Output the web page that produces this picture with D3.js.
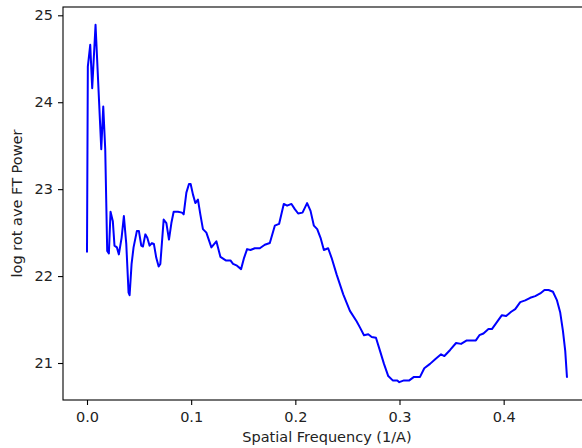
<!DOCTYPE html>
<html>
<head>
<meta charset="utf-8">
<script src="https://cdn.jsdelivr.net/npm/d3@7"></script>
<style>
body { margin: 0; background: #fff; }
text { font-family: "DejaVu Sans", sans-serif; }
</style>
</head>
<body>
<script>
var width = 582;
var height = 448;

// spatial frequency (1/A) and log rotational average FT power
var freq = [0.0, 0.0008, 0.0031, 0.0050, 0.0082, 0.0137, 0.0156, 0.0175, 0.0194, 0.0210,
    0.0226, 0.0248, 0.0264, 0.0287, 0.0306, 0.0332, 0.0354, 0.0377, 0.0399, 0.0409,
    0.0428, 0.0447, 0.0479, 0.0498, 0.0521, 0.0537, 0.0560, 0.0579, 0.0601, 0.0623,
    0.0642, 0.0665, 0.0688, 0.0704, 0.0736, 0.0762, 0.0787, 0.0810, 0.0832, 0.0873,
    0.0912, 0.0928, 0.0954, 0.0979, 0.0995, 0.1017, 0.1040, 0.1065, 0.1088, 0.1113,
    0.1146, 0.1194, 0.1242, 0.1281, 0.1332, 0.1377, 0.1402, 0.1440, 0.1479, 0.1508,
    0.1537, 0.1569, 0.1611, 0.1659, 0.1707, 0.1755, 0.1803, 0.1844, 0.1889, 0.1921,
    0.1963, 0.1995, 0.2027, 0.2069, 0.2113, 0.2146, 0.2178, 0.2210, 0.2242, 0.2274,
    0.2315, 0.2348, 0.2396, 0.2460, 0.2524, 0.2588, 0.2620, 0.2659, 0.2700, 0.2733,
    0.2774, 0.2813, 0.2851, 0.2892, 0.2935, 0.2979, 0.2998, 0.3043, 0.3094, 0.3139,
    0.3197, 0.3238, 0.3293, 0.3348, 0.3399, 0.3431, 0.3486, 0.3543, 0.3591, 0.3646,
    0.3710, 0.3733, 0.3767, 0.3806, 0.3854, 0.3887, 0.3935, 0.3983, 0.4024, 0.4072,
    0.4111, 0.4159, 0.4207, 0.4255, 0.4303, 0.4351, 0.4392, 0.4431, 0.4473, 0.4512,
    0.4543, 0.4569, 0.4591, 0.4608];
var power = [22.27, 24.41, 24.66, 24.16, 24.89, 23.46, 23.95, 23.46, 22.29, 22.26,
    22.74, 22.63, 22.35, 22.33, 22.25, 22.44, 22.69, 22.37, 21.81, 21.78,
    22.14, 22.33, 22.52, 22.52, 22.35, 22.34, 22.48, 22.44, 22.35, 22.38,
    22.37, 22.21, 22.11, 22.14, 22.65, 22.61, 22.42, 22.61, 22.74, 22.74,
    22.73, 22.71, 22.96, 23.06, 23.06, 22.94, 22.84, 22.88, 22.71, 22.54,
    22.50, 22.33, 22.40, 22.22, 22.18, 22.18, 22.14, 22.12, 22.08, 22.21,
    22.31, 22.30, 22.32, 22.32, 22.36, 22.38, 22.58, 22.60, 22.83, 22.81,
    22.83, 22.77, 22.72, 22.73, 22.84, 22.75, 22.58, 22.54, 22.44, 22.30,
    22.32, 22.21, 22.02, 21.79, 21.60, 21.48, 21.41, 21.32, 21.33, 21.30,
    21.29, 21.14, 20.99, 20.85, 20.80, 20.80, 20.78, 20.80, 20.80, 20.84,
    20.84, 20.94, 20.99, 21.05, 21.10, 21.08, 21.15, 21.23, 21.22, 21.26,
    21.26, 21.26, 21.32, 21.34, 21.39, 21.39, 21.47, 21.55, 21.54, 21.59,
    21.62, 21.70, 21.72, 21.75, 21.77, 21.80, 21.84, 21.84, 21.82, 21.72,
    21.58, 21.37, 21.14, 20.83];
var xTicks = [0.0, 0.1, 0.2, 0.3, 0.4];
var yTicks = [21, 22, 23, 24, 25];

var margin = {top: 7, right: -9, bottom: 48, left: 63};
var plotW = width - margin.left - margin.right;
var plotH = height - margin.top - margin.bottom;
var fontSize = "14.5px";

var svg = d3.select("body")
            .append("svg")
            .attr("width", width)
            .attr("height", height);

var g = svg.append("g")
           .attr("transform", "translate(" + margin.left + "," + margin.top + ")");

// matplotlib-like 5% margins around the data
var xMin = d3.min(freq), xMax = d3.max(freq);
var yMin = d3.min(power), yMax = d3.max(power);
var x = d3.scaleLinear()
          .domain([xMin - 0.05 * (xMax - xMin), xMax + 0.05 * (xMax - xMin)])
          .range([0, plotW]);
var y = d3.scaleLinear()
          .domain([yMin - 0.05 * (yMax - yMin), yMax + 0.05 * (yMax - yMin)])
          .range([plotH, 0]);

var pts = freq.map(function(f, i) { return [f, power[i]]; });

var line = d3.line()
             .x(function(d) { return x(d[0]); })
             .y(function(d) { return y(d[1]); });

g.append("path")
    .datum(pts)
    .attr("d", line)
    .attr("fill", "none")
    .attr("stroke", "#0000ff")
    .attr("stroke-width", 2)
    .attr("stroke-linejoin", "round");

// frame (right side falls just outside the window, as in the original crop)
g.append("rect")
    .attr("x", 0)
    .attr("y", 0)
    .attr("width", plotW)
    .attr("height", plotH)
    .attr("fill", "none")
    .attr("stroke", "#000")
    .attr("stroke-width", 1.1);

var xAxis = g.append("g")
    .attr("transform", "translate(0," + plotH + ")")
    .call(d3.axisBottom(x).tickValues(xTicks).tickFormat(d3.format(".1f"))
        .tickSize(5).tickSizeOuter(0).tickPadding(7));
var yAxis = g.append("g")
    .call(d3.axisLeft(y).tickValues(yTicks).tickFormat(d3.format("d"))
        .tickSize(5).tickSizeOuter(0).tickPadding(5));

[xAxis, yAxis].forEach(function(a) {
    a.select(".domain").remove();
    a.selectAll("line").attr("stroke", "#000").attr("stroke-width", 1.1);
    a.selectAll("text").attr("fill", "#222").style("font-size", fontSize)
        .style("font-family", "'DejaVu Sans', sans-serif");
});

svg.append("text")
    .attr("x", margin.left + plotW / 2)
    .attr("y", 442)
    .attr("text-anchor", "middle")
    .attr("fill", "#222")
    .style("font-size", fontSize)
    .text("Spatial Frequency (1/A)");

svg.append("text")
    .attr("transform", "translate(22," + (margin.top + plotH / 2) + ") rotate(-90)")
    .attr("text-anchor", "middle")
    .attr("fill", "#222")
    .style("font-size", fontSize)
    .text("log rot ave FT Power");
</script>
</body>
</html>
